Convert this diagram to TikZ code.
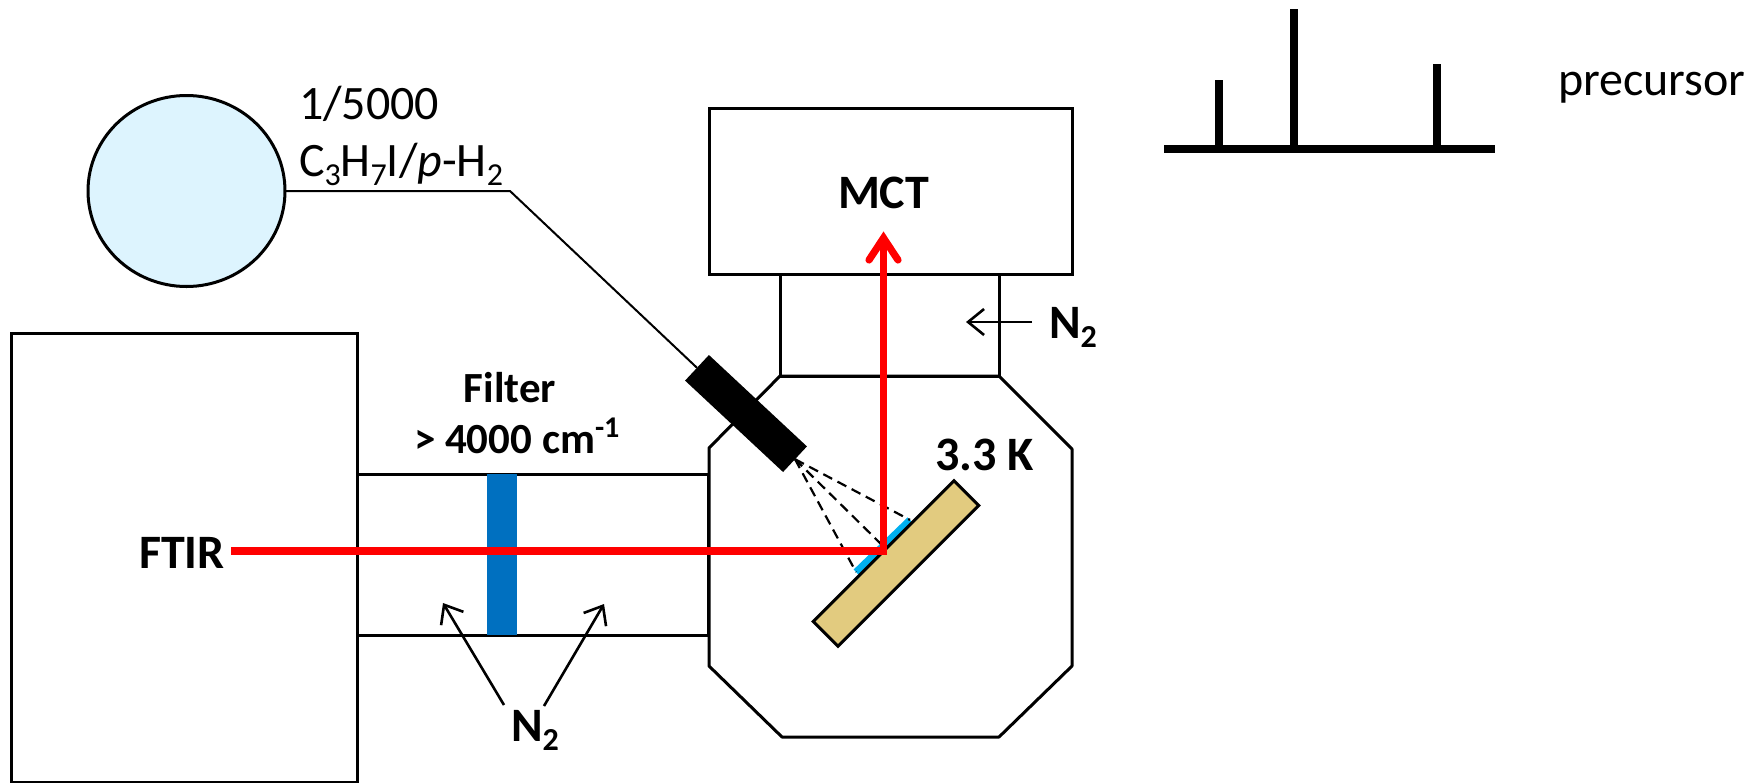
\documentclass[tikz,border=0pt]{standalone}
\usepackage{fontspec}
\setmainfont{Carlito}
\usetikzlibrary{positioning,calc,arrows.meta,shapes.geometric}
\definecolor{bottleblue}{HTML}{DDF4FE}
\definecolor{filterblue}{HTML}{0070C0}
\definecolor{filmblue}{HTML}{00B0F0}
\definecolor{plategold}{HTML}{E2CB7F}
\newcommand{\lowsub}[1]{\raisebox{-0.4ex}{\fontsize{16}{16}\selectfont #1}}

\begin{document}
\begin{tikzpicture}[x=0.5pt,y=-0.5pt,font=\fontsize{24}{26}\selectfont]
  \tikzset{
    box/.style={draw=black,line width=1.5pt,minimum width=0pt,minimum height=0pt,
                inner sep=0pt,outer sep=0pt,anchor=north west},
    plain/.style={inner sep=0pt,outer sep=0pt,anchor=base west},
    heavy/.style={plain,font=\fontsize{24}{26}\selectfont\bfseries},
    beam/.style={draw=red,line width=3.6pt},
    thinarrow/.style={draw=black,line width=1.3pt,-{Straight Barb[length=8pt,width=13pt,line width=1.3pt]}},
    spectrum/.style={draw=black,line width=3.6pt},
  }
  \useasboundingbox (0,0) rectangle (1760,782);
  % ---- bottle and wire ----
  \node[ellipse,draw=black,line width=1.5pt,fill=bottleblue,minimum width=98.5pt,minimum height=95.5pt,
        inner sep=0pt,outer sep=0pt] (bottle) at (186.5,191) {};
  \node[plain] (ratio) at (299,119) {1/5000};
  \node[plain] (mix) at (299,176) {C\lowsub{3}H\lowsub{7}I/\textit{p}-H\lowsub{2}};
  \coordinate (elbow) at (510,191);
  % ---- boxes ----
  \node[box,minimum width=173pt,minimum height=224.5pt] (ftir) at (11,333) {};
  \node[box,minimum width=175.5pt,minimum height=80.5pt] (tube) at (357,474) {};
  \node[draw=none,fill=filterblue,minimum width=15pt,minimum height=80.5pt,inner sep=0pt,
        anchor=north west] (filter) at (487,474) {};
  \node[box,minimum width=181.5pt,minimum height=83pt] (mct) at (709,108) {};
  \node[box,minimum width=109.5pt,minimum height=51pt] (neck) at (780,274) {};
  % ---- chamber ----
  \draw[line width=1.5pt,line join=round] (780,376) -- (999,376) -- (1072,449) -- (1072,666)
       -- (999,737) -- (782,737) -- (709,666) -- (709,448) -- cycle;
  % ---- cold plate, film, nozzle ----
  \node[fill=filmblue,minimum width=37.5pt,minimum height=3.5pt,inner sep=0pt,outer sep=0pt,
        rotate=44] (film) at (883,546) {};
  \node[draw=black,line width=1.5pt,fill=plategold,minimum width=99.5pt,minimum height=17.5pt,inner sep=0pt,
        outer sep=0pt,rotate=45] (plate) at (896,563.5) {};
  \node[fill=black,minimum width=67pt,minimum height=17.5pt,inner sep=0pt,outer sep=0pt,
        rotate=-43] (nozzle) at (746,413.5) {};
  \draw[line width=1pt] (bottle.east) -- (elbow) -- (nozzle.west);
  \foreach \i in {film.west,film.center,film.east} {
    \draw[line width=1.1pt,dash pattern=on 5pt off 3pt] (nozzle.east) -- (\i);
  }
  % ---- labels ----
  \node[heavy] (ftirlabel) at (139,568) {FTIR};
  \node[heavy] (mctlabel) at (838,208) {MCT};
  \node[heavy,anchor=base,font=\fontsize{21.5}{24}\selectfont\bfseries] (filterlabel) at (510,402) {Filter};
  \node[heavy,font=\fontsize{21.5}{24}\selectfont\bfseries] (cutoff) at (414,453) {> 4000 cm\textsuperscript{-1}};
  \node[heavy] (temp) at (935,470) {3.3 K};
  \node[heavy] (gasright) at (1049,338) {N\lowsub{2}};
  \node[heavy] (gasbelow) at (511,741) {N\lowsub{2}};
  % ---- beam ----
  \coordinate (refl) at (883.5,551);
  \coordinate (tip) at (883.5,238);
  \coordinate (start) at (231,551);
  \draw[beam,line join=miter] (start) -- (refl) -- (tip);
  \draw[beam,line cap=round,line join=miter] (869,260) -- (tip) -- (898,260);
  % ---- gas arrows ----
  \coordinate (gasa) at (443,603);
  \coordinate (gasb) at (604,604);
  \coordinate (gasc) at (966,322);
  \draw[thinarrow] (504,705) -- (gasa);
  \draw[thinarrow] (544,706) -- (gasb);
  \draw[thinarrow] (1032,322) -- (gasc);
  % ---- spectrum ----
  \coordinate (axisleft) at (1164,149);
  \coordinate (axisright) at (1495,149);
  \draw[spectrum] (axisleft) -- (axisright);
  \foreach \i/\j in {1219/80,1294/9,1437/64} {
    \draw[spectrum] (\i,149) -- (\i,\j);
  }
  \node[plain] (precursor) at (1558,95) {precursor};
\end{tikzpicture}
\end{document}
